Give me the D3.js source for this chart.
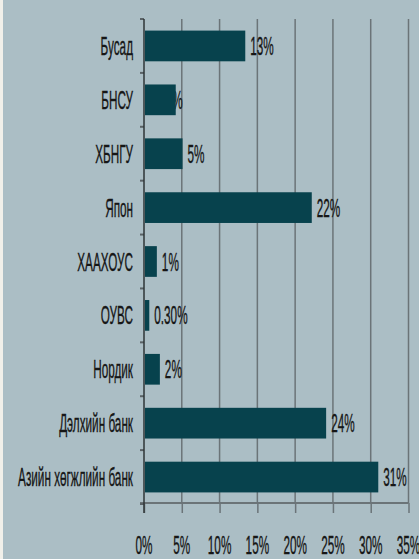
<!DOCTYPE html>
<html>
<head>
<meta charset="utf-8">
<script src="https://cdn.jsdelivr.net/npm/d3@7/dist/d3.min.js"></script>
<style>
  html, body { margin: 0; padding: 0; background: #f1f0ea; }
  svg text { font-family: "Liberation Sans", Arial, sans-serif; fill: #161616; stroke: #161616; stroke-width: 0.35px; }
</style>
</head>
<body>
<svg width="419" height="559"></svg>
<script>
// categories top to bottom
var categories = ["Бусад", "БНСУ", "ХБНГУ", "Япон", "ХААХОУС", "ОУВС", "Нордик", "Дэлхийн банк", "Азийн хөгжлийн банк"];
// bar lengths in percent
var shares = [13.4, 4.2, 5.1, 22.2, 1.7, 0.7, 2.1, 24.1, 31.0];
// data labels as printed on the chart
var shareLabels = ["13%", "4%", "5%", "22%", "1%", "0.30%", "2%", "24%", "31%"];
var xTicks = [0, 5, 10, 15, 20, 25, 30, 35];

var svg = d3.select("svg"),
    width = +svg.attr("width"),
    height = +svg.attr("height");

var sx = 0.47;          // narrow font look
var fontSize = 25;
// the БНСУ label sits half under its bar in the original
var labelShift = { "БНСУ": -15 };

svg.append("rect")
    .attr("x", 3).attr("y", 0)
    .attr("width", width - 3).attr("height", height)
    .attr("fill", "#abbec5");

var x = d3.scaleLinear().domain([0, 35]).range([144, 408.5]);
var y = d3.scaleBand().domain(categories).range([19, 504]).paddingInner(0.43).paddingOuter(0.215);

var plotTop = 19, plotBottom = 503;

// vertical gridlines
svg.append("g").selectAll("line")
    .data(xTicks.slice(1))
    .enter().append("line")
    .attr("x1", function(d) { return x(d); })
    .attr("x2", function(d) { return x(d); })
    .attr("y1", plotTop).attr("y2", plotBottom)
    .attr("stroke", "#6b7478").attr("stroke-width", 1.5);

// bottom axis
var xAxis = d3.axisBottom(x).tickValues(xTicks).tickSize(10).tickFormat("");
var gx = svg.append("g").attr("transform", "translate(0," + plotBottom + ")").call(xAxis);
gx.select(".domain").remove();
gx.selectAll(".tick line").attr("stroke", "#6b7478").attr("stroke-width", 1.5);
gx.append("line")
    .attr("x1", 140).attr("x2", x(35))
    .attr("stroke", "#6b7478").attr("stroke-width", 2);

svg.append("g").selectAll("text")
    .data(xTicks)
    .enter().append("text")
    .attr("transform", function(d) { return "translate(" + x(d) + ",554) scale(" + sx + ",1)"; })
    .attr("text-anchor", "middle")
    .style("font-size", fontSize + "px")
    .text(function(d) { return d + "%"; });

// category ticks on the left, at band boundaries
var bounds = categories.map(function(c) { return y(c) - y.step() * y.paddingInner() / 2; });
bounds.push(y(categories[categories.length - 1]) + y.bandwidth() + y.step() * y.paddingInner() / 2);
svg.append("g").selectAll("line")
    .data(bounds)
    .enter().append("line")
    .attr("x1", 140).attr("x2", 144)
    .attr("y1", function(d) { return d; }).attr("y2", function(d) { return d; })
    .attr("stroke", "#5a6266").attr("stroke-width", 2);

// value labels first, so a bar may cover its own label
svg.append("g").selectAll("text")
    .data(categories)
    .enter().append("text")
    .attr("transform", function(d, i) {
        var lx = x(shares[i]) + 5 + (labelShift[d] || 0);
        return "translate(" + lx + "," + (y(d) + y.bandwidth() / 2 + 9) + ") scale(" + sx + ",1)";
    })
    .style("font-size", fontSize + "px")
    .text(function(d, i) { return shareLabels[i]; });

// bars
svg.append("g").selectAll("rect")
    .data(categories)
    .enter().append("rect")
    .attr("x", x(0) + 1)
    .attr("y", function(d) { return y(d); })
    .attr("width", function(d, i) { return x(shares[i]) - x(0) - 1; })
    .attr("height", y.bandwidth())
    .attr("fill", "#07424d");

// category axis line
svg.append("line")
    .attr("x1", 144).attr("x2", 144)
    .attr("y1", plotTop).attr("y2", plotBottom + 10)
    .attr("stroke", "#2e3436").attr("stroke-width", 1.5);

// category labels
svg.append("g").selectAll("text")
    .data(categories)
    .enter().append("text")
    .attr("transform", function(d) {
        return "translate(133," + (y(d) + y.bandwidth() / 2 + 9) + ") scale(" + sx + ",1)";
    })
    .attr("text-anchor", "end")
    .style("font-size", fontSize + "px")
    .text(function(d) { return d; });
</script>
</body>
</html>
